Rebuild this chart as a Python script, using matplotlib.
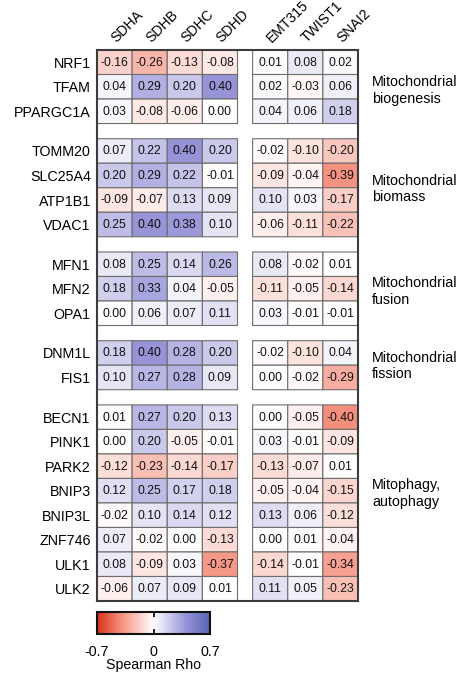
import numpy as np
import matplotlib
matplotlib.use("Agg")
import matplotlib.pyplot as plt
from matplotlib.colors import LinearSegmentedColormap

plt.rcParams['font.family'] = ['Liberation Sans', 'DejaVu Sans']

# ---------------- data ----------------
sdh_cols = ['SDHA', 'SDHB', 'SDHC', 'SDHD']
emt_cols = ['EMT315', 'TWIST1', 'SNAI2']

group_labels = ['Mitochondrial\nbiogenesis', 'Mitochondrial\nbiomass',
                'Mitochondrial\nfusion', 'Mitochondrial\nfission',
                'Mitophagy,\nautophagy']
group_genes = [
    ['NRF1', 'TFAM', 'PPARGC1A'],
    ['TOMM20', 'SLC25A4', 'ATP1B1', 'VDAC1'],
    ['MFN1', 'MFN2', 'OPA1'],
    ['DNM1L', 'FIS1'],
    ['BECN1', 'PINK1', 'PARK2', 'BNIP3', 'BNIP3L', 'ZNF746', 'ULK1', 'ULK2'],
]

sdh_values = [
    [-0.16, -0.26, -0.13, -0.08],
    [0.04, 0.29, 0.20, 0.40],
    [0.03, -0.08, -0.06, 0.00],
    [0.07, 0.22, 0.40, 0.20],
    [0.20, 0.29, 0.22, -0.01],
    [-0.09, -0.07, 0.13, 0.09],
    [0.25, 0.40, 0.38, 0.10],
    [0.08, 0.25, 0.14, 0.26],
    [0.18, 0.33, 0.04, -0.05],
    [0.00, 0.06, 0.07, 0.11],
    [0.18, 0.40, 0.28, 0.20],
    [0.10, 0.27, 0.28, 0.09],
    [0.01, 0.27, 0.20, 0.13],
    [0.00, 0.20, -0.05, -0.01],
    [-0.12, -0.23, -0.14, -0.17],
    [0.12, 0.25, 0.17, 0.18],
    [-0.02, 0.10, 0.14, 0.12],
    [0.07, -0.02, 0.00, -0.13],
    [0.08, -0.09, 0.03, -0.37],
    [-0.06, 0.07, 0.09, 0.01],
]
emt_values = [
    [0.01, 0.08, 0.02],
    [0.02, -0.03, 0.06],
    [0.04, 0.06, 0.18],
    [-0.02, -0.10, -0.20],
    [-0.09, -0.04, -0.39],
    [0.10, 0.03, -0.17],
    [-0.06, -0.11, -0.22],
    [0.08, -0.02, 0.01],
    [-0.11, -0.05, -0.14],
    [0.03, -0.01, -0.01],
    [-0.02, -0.10, 0.04],
    [0.00, -0.02, -0.29],
    [0.00, -0.05, -0.40],
    [0.03, -0.01, -0.09],
    [-0.13, -0.07, 0.01],
    [-0.05, -0.04, -0.15],
    [0.13, 0.06, -0.12],
    [0.00, 0.01, -0.04],
    [-0.14, -0.01, -0.34],
    [0.11, 0.05, -0.23],
]
vmin, vmax = -0.7, 0.7
cbar_ticks = [-0.7, 0, 0.7]
cbar_ticklabels = ['-0.7', '0', '0.7']
cbar_title = 'Spearman Rho'

# ---------------- layout ----------------
W, H = 461, 673
fig = plt.figure(figsize=(W / 100, H / 100), dpi=100)

col_gap = 0.43
row_gap = 0.62
cols = sdh_cols + emt_cols

# x edges (with a masked gap column)
x_edges = [0.0]
for i in range(len(sdh_cols)):
    x_edges.append(x_edges[-1] + 1)
x_edges.append(x_edges[-1] + col_gap)
for i in range(len(emt_cols)):
    x_edges.append(x_edges[-1] + 1)
x_edges = np.array(x_edges)
col_centers = []
for i in range(len(x_edges) - 1):
    if i == len(sdh_cols):
        continue
    col_centers.append((x_edges[i] + x_edges[i + 1]) / 2)

# y edges (with masked gap rows)
y_edges = [0.0]
row_is_gap = []
genes = []
for g, gl in enumerate(group_genes):
    if g > 0:
        y_edges.append(y_edges[-1] + row_gap)
        row_is_gap.append(True)
    for gene in gl:
        y_edges.append(y_edges[-1] + 1)
        row_is_gap.append(False)
        genes.append(gene)
y_edges = np.array(y_edges)

vals = np.hstack([np.array(sdh_values), np.full((len(genes), 1), np.nan), np.array(emt_values)])
grid = np.full((len(row_is_gap), vals.shape[1]), np.nan)
r = 0
row_centers = []
for i, isg in enumerate(row_is_gap):
    if not isg:
        grid[i] = vals[r]
        row_centers.append((y_edges[i] + y_edges[i + 1]) / 2)
        r += 1
masked = np.ma.masked_invalid(grid)

cmap = LinearSegmentedColormap.from_list(
    'rb', [(0.0, '#d6321a'), (0.5 - 0.5 * 0.57, '#f5907f'), (0.5, '#ffffff'),
           (0.5 + 0.5 * 0.57, '#9794d8'), (1.0, '#5865b3')])

left, right, top, bottom = 97, 358, 50, 601
ax = fig.add_axes([left / W, 1 - bottom / H, (right - left) / W, (bottom - top) / H])
mesh = ax.pcolor(x_edges, y_edges, masked, cmap=cmap, vmin=vmin, vmax=vmax,
                 edgecolors='#6e6e6e', linewidth=0.8)
ax.set_xlim(x_edges[0], x_edges[-1])
ax.set_ylim(y_edges[-1], y_edges[0])
for s in ax.spines.values():
    s.set_color('#3c3c3c')
    s.set_linewidth(1.5)

# cell texts
for ri, yc in enumerate(row_centers):
    rowvals = list(sdh_values[ri]) + list(emt_values[ri])
    for ci, xc in enumerate(col_centers):
        ax.text(xc, yc + 0.02, f'{rowvals[ci]:.2f}', ha='center', va='center',
                fontsize=8.8, color='#111111')

ax.set_xticks([])
ax.set_yticks(row_centers)
ax.set_yticklabels(genes, fontsize=10.3)
ax.tick_params(axis='y', length=0, pad=4.5)

# column labels
for ci, xc in enumerate(col_centers):
    ax.text(xc + 0.05, -0.28, cols[ci], rotation=45, rotation_mode='anchor',
            ha='left', va='baseline', fontsize=10.1, clip_on=False)

# group labels
label_offsets = [0.15, 0.05, 0.12, 0.03, -0.4]
gx = (372 - left) / (right - left) * x_edges[-1]
start = 0
for g, gl in enumerate(group_genes):
    y0 = y_edges[start]
    y1 = y_edges[start + len(gl)]
    ax.text(gx, (y0 + y1) / 2 + label_offsets[g], group_labels[g], ha='left', va='center',
            fontsize=10.3, linespacing=1.25, clip_on=False)
    start += len(gl) + 1

# colorbar
cax = fig.add_axes([97 / W, 1 - 634 / H, (210 - 97) / W, (634 - 612) / H])
cb = fig.colorbar(mesh, cax=cax, orientation='horizontal', ticks=cbar_ticks)
cb.ax.set_xticklabels(cbar_ticklabels, fontsize=10.3)
cb.ax.tick_params(direction='in', top=True, bottom=True, length=3.5, width=1.2,
                  pad=8, color='black')
cb.outline.set_linewidth(1.5)
cb.outline.set_edgecolor('#111111')
cb.set_label(cbar_title, fontsize=10.2, labelpad=-1)

fig.savefig('out.png', dpi=100)
